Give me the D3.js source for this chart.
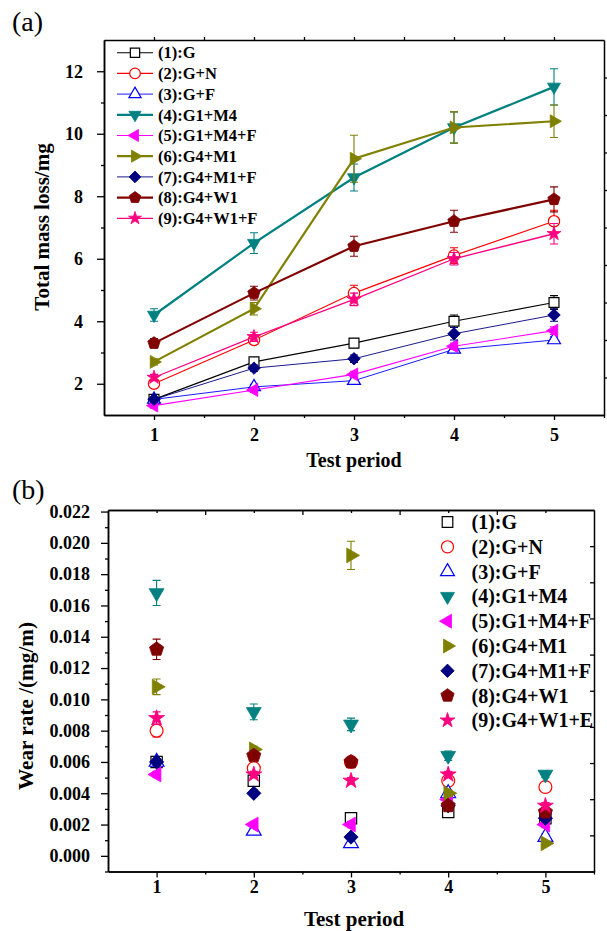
<!DOCTYPE html>
<html>
<head>
<meta charset="utf-8">
<script src="https://cdn.jsdelivr.net/npm/d3@7/dist/d3.min.js"></script>
<style>
  body { margin: 0; background: #fff; }
  text { font-family: "Liberation Serif", "Times New Roman", serif; }
</style>
</head>
<body>
<script>
// test periods and sample names
const periods = [1, 2, 3, 4, 5];
const seriesNames = ["(1):G", "(2):G+N", "(3):G+F", "(4):G1+M4", "(5):G1+M4+F",
  "(6):G4+M1", "(7):G4+M1+F", "(8):G4+W1", "(9):G4+W1+F"];
// panel (b) legend has a typo in the last entry, keep it as in the figure
const seriesNamesB = ["(1):G", "(2):G+N", "(3):G+F", "(4):G1+M4", "(5):G1+M4+F",
  "(6):G4+M1", "(7):G4+M1+F", "(8):G4+W1", "(9):G4+W1+E"];

// (a) total mass loss, mg
const massLoss = [
  [1.5, 2.7, 3.3, 4.0, 4.6],
  [2.0, 3.4, 4.9, 6.1, 7.2],
  [1.5, 1.9, 2.1, 3.1, 3.4],
  [4.2, 6.5, 8.6, 10.2, 11.5],
  [1.3, 1.8, 2.3, 3.2, 3.7],
  [2.7, 4.4, 9.2, 10.2, 10.4],
  [1.5, 2.5, 2.8, 3.6, 4.2],
  [3.3, 4.9, 6.4, 7.2, 7.9],
  [2.2, 3.5, 4.7, 6.0, 6.8]
];
const massLossErr = [
  [0.08, 0.1, 0.15, 0.2, 0.22],
  [0.1, 0.12, 0.25, 0.25, 0.35],
  [0.05, 0.08, 0.1, 0.1, 0.1],
  [0.2, 0.33, 0.43, 0.5, 0.58],
  [0.08, 0.08, 0.1, 0.1, 0.12],
  [0.1, 0.2, 0.75, 0.5, 0.52],
  [0.08, 0.1, 0.12, 0.2, 0.2],
  [0.15, 0.22, 0.32, 0.35, 0.4],
  [0.1, 0.15, 0.2, 0.2, 0.33]
];

// (b) wear rate, mg/m
const wearRate = [
  [0.0060, 0.0048, 0.0024, 0.0028, 0.0024],
  [0.0080, 0.0056, 0.0060, 0.0048, 0.0044],
  [0.0060, 0.0016, 0.0008, 0.0040, 0.0012],
  [0.0168, 0.0092, 0.0084, 0.0064, 0.0052],
  [0.0052, 0.0020, 0.0020, 0.0036, 0.0020],
  [0.0108, 0.0068, 0.0192, 0.0040, 0.0008],
  [0.0060, 0.0040, 0.0012, 0.0032, 0.0024],
  [0.0132, 0.0064, 0.0060, 0.0032, 0.0028],
  [0.0088, 0.0052, 0.0048, 0.0052, 0.0032]
];
const wearRateErr = [
  [0.0002, 0.0002, 0.0002, 0.0002, 0.0002],
  [0.0004, 0.0003, 0.0002, 0.0003, 0.0002],
  [0.0002, 0.0002, 0.0002, 0.0002, 0.0002],
  [0.0008, 0.0005, 0.0004, 0.0003, 0.0002],
  [0.0002, 0.0002, 0.0002, 0.0002, 0.0002],
  [0.0005, 0.0002, 0.0009, 0.0002, 0.0001],
  [0.0002, 0.0002, 0.0002, 0.0002, 0.0002],
  [0.00065, 0.0003, 0.0003, 0.0002, 0.0002],
  [0.0004, 0.0002, 0.0002, 0.0002, 0.0002]
];

const yTicksA = [2, 4, 6, 8, 10, 12];
const yTicksB = [0, 0.002, 0.004, 0.006, 0.008, 0.010, 0.012, 0.014, 0.016, 0.018, 0.020, 0.022];

// look of each series (Origin default-ish palette)
const colors = ["#000000", "#ff0000", "#0000ff", "#008080", "#ff00ff", "#808000", "#000080", "#800000", "#ff0080"];
const shapes = ["square", "circle", "triUp", "triDown", "triLeft", "triRight", "diamond", "pentagon", "star"];
const lineWidths = [1.1, 1.1, 0.9, 2.2, 1.1, 2.2, 0.9, 2.2, 1.3];

const symbolPentagon = {
  draw(ctx, size) {
    const r = Math.sqrt(size / 2.3776);
    for (let k = 0; k < 5; k++) {
      const a = -Math.PI / 2 + k * 2 * Math.PI / 5;
      if (k === 0) ctx.moveTo(r * Math.cos(a), r * Math.sin(a));
      else ctx.lineTo(r * Math.cos(a), r * Math.sin(a));
    }
    ctx.closePath();
  }
};

function marker(sel, i, x, y, k) {
  const kind = shapes[i];
  let type = d3.symbolSquare, size = 78, rot = 0;
  if (kind === "circle") { type = d3.symbolCircle; size = 80; }
  if (kind.startsWith("tri")) { type = d3.symbolTriangle; size = 58; }
  if (kind === "triDown") rot = 180;
  if (kind === "triLeft") rot = -90;
  if (kind === "triRight") rot = 90;
  if (kind === "diamond") { size = 62; rot = 45; }
  if (kind === "pentagon") { type = symbolPentagon; size = 80; }
  if (kind === "star") { type = d3.symbolStar; size = 48; }
  const open = i < 3;
  sel.append("path")
    .attr("d", d3.symbol(type, size * k * k)())
    .attr("transform", "translate(" + x + "," + y + ") rotate(" + rot + ")")
    .attr("fill", open ? "#fff" : colors[i])
    .attr("stroke", colors[i])
    .attr("stroke-width", open ? 1.2 : 0.8);
}

const svg = d3.select("body").append("svg")
  .attr("width", 607)
  .attr("height", 931);
svg.append("rect").attr("width", 607).attr("height", 931).attr("fill", "#fff");

function styleAxis(g, fontSize) {
  g.selectAll("path.domain").attr("stroke", "#000").attr("stroke-width", 1.5);
  g.selectAll(".tick line").attr("stroke", "#000").attr("stroke-width", 1.3);
  g.selectAll(".tick text")
    .attr("fill", "#000")
    .attr("font-size", fontSize + "px")
    .attr("font-weight", "bold")
    .attr("font-family", "'Liberation Serif', 'Times New Roman', serif");
}

// ================= panel (a) =================
const xA = d3.scaleLinear().domain([0.5, 5.5]).range([104, 604]);
const yA = d3.scaleLinear().domain([1, 13]).range([415, 40]);
const yRightA = d3.scaleLinear().domain([0, 10]).range([415, 40]);

svg.append("g").attr("transform", "translate(0,415)")
  .call(d3.axisBottom(xA).tickValues([1.5, 2.5, 3.5, 4.5, 5.5]).tickSize(3).tickSizeOuter(0).tickFormat(""))
  .call(g => styleAxis(g, 18));
svg.append("g").attr("transform", "translate(0,415)")
  .call(d3.axisBottom(xA).tickValues(periods).tickSize(5).tickPadding(8).tickSizeOuter(0).tickFormat(d3.format("d")))
  .call(g => styleAxis(g, 18));
svg.append("g").attr("transform", "translate(0,40)")
  .call(d3.axisTop(xA).tickValues([1, 1.5, 2, 2.5, 3, 3.5, 4, 4.5, 5]).tickSize(3).tickSizeOuter(0).tickFormat(""))
  .call(g => styleAxis(g, 18));
svg.append("g").attr("transform", "translate(104,0)")
  .call(d3.axisLeft(yA).tickValues([3, 5, 7, 9, 11]).tickSize(3).tickSizeOuter(0).tickFormat(""))
  .call(g => styleAxis(g, 18));
svg.append("g").attr("transform", "translate(104,0)")
  .call(d3.axisLeft(yA).tickValues(yTicksA).tickSize(7).tickPadding(14).tickSizeOuter(0).tickFormat(d3.format("d")))
  .call(g => styleAxis(g, 18));
svg.append("g").attr("transform", "translate(604,0)")
  .call(d3.axisRight(yRightA).tickValues(d3.range(1, 10)).tickSize(3).tickSizeOuter(0).tickFormat(""))
  .call(g => styleAxis(g, 18));

svg.append("text").attr("x", 12).attr("y", 31)
  .attr("font-size", "28px").text("(a)");
svg.append("text")
  .attr("transform", "translate(49,227) rotate(-90)")
  .attr("text-anchor", "middle")
  .attr("font-size", "21px").attr("font-weight", "bold")
  .text("Total mass loss/mg");
svg.append("text").attr("x", 354).attr("y", 467)
  .attr("text-anchor", "middle")
  .attr("font-size", "20px").attr("font-weight", "bold")
  .text("Test period");

const line = d3.line().x((d, j) => xA(periods[j])).y(d => yA(d));
massLoss.forEach((vals, i) => {
  const g = svg.append("g");
  g.append("path").attr("d", line(vals))
    .attr("fill", "none").attr("stroke", colors[i]).attr("stroke-width", lineWidths[i]);
  vals.forEach((v, j) => {
    const x = xA(periods[j]), e = massLossErr[i][j];
    const y0 = yA(v - e), y1 = yA(v + e);
    g.append("path")
      .attr("d", "M" + x + "," + y0 + "V" + y1 + "M" + (x - 4) + "," + y0 + "H" + (x + 4) + "M" + (x - 4) + "," + y1 + "H" + (x + 4))
      .attr("stroke", colors[i]).attr("stroke-width", 1.1).attr("fill", "none");
  });
  vals.forEach((v, j) => marker(g, i, xA(periods[j]), yA(v), 1.12));
});

// legend (a)
seriesNames.forEach((name, i) => {
  const y = 52.7 + i * 20.7;
  svg.append("line").attr("x1", 117).attr("x2", 153).attr("y1", y).attr("y2", y)
    .attr("stroke", colors[i]).attr("stroke-width", lineWidths[i]);
  marker(svg, i, 135, y, 1.05);
  svg.append("text").attr("x", 158).attr("y", y).attr("dy", "0.35em")
    .attr("font-size", "16.5px").attr("font-weight", "bold")
    .text(name);
});

// ================= panel (b) =================
const xB = d3.scaleLinear().domain([0.5, 5.5]).range([108, 594]);
const yB = d3.scaleLinear().domain([-0.001, 0.0221]).range([871.5, 510]);
const yRightB = d3.scaleLinear().domain([0, 10]).range([871.5, 510]);

svg.append("g").attr("transform", "translate(0,871.5)")
  .call(d3.axisBottom(xB).tickValues([1.5, 2.5, 3.5, 4.5, 5.5]).tickSize(3).tickSizeOuter(0).tickFormat(""))
  .call(g => styleAxis(g, 18));
svg.append("g").attr("transform", "translate(0,871.5)")
  .call(d3.axisBottom(xB).tickValues(periods).tickSize(6).tickPadding(3).tickSizeOuter(0).tickFormat(d3.format("d")))
  .call(g => styleAxis(g, 18));
svg.append("g").attr("transform", "translate(0,510)")
  .call(d3.axisBottom(xB).tickValues([1.5, 2.5, 3.5, 4.5]).tickSize(5).tickSizeOuter(0).tickFormat(""))
  .call(g => styleAxis(g, 18));
svg.append("g").attr("transform", "translate(0,510)")
  .call(d3.axisBottom(xB).tickValues(periods).tickSize(3).tickSizeOuter(0).tickFormat(""))
  .call(g => styleAxis(g, 18));
svg.append("g").attr("transform", "translate(108,0)")
  .call(d3.axisLeft(yB).tickValues(d3.range(-1, 22, 2).map(d => d / 1000)).tickSize(3).tickSizeOuter(0).tickFormat(""))
  .call(g => styleAxis(g, 18));
svg.append("g").attr("transform", "translate(108,0)")
  .call(d3.axisLeft(yB).tickValues(yTicksB).tickSize(7).tickPadding(11).tickSizeOuter(0).tickFormat(d3.format(".3f")))
  .call(g => styleAxis(g, 18));
svg.append("g").attr("transform", "translate(594,0)")
  .call(d3.axisLeft(yRightB).tickValues(d3.range(1, 10)).tickSize(4).tickSizeOuter(0).tickFormat(""))
  .call(g => styleAxis(g, 18));

svg.append("text").attr("x", 12).attr("y", 499)
  .attr("font-size", "28px").text("(b)");
svg.append("text")
  .attr("transform", "translate(33,706) rotate(-90)")
  .attr("text-anchor", "middle")
  .attr("font-size", "22px").attr("font-weight", "bold")
  .attr("textLength", 168).attr("lengthAdjust", "spacingAndGlyphs")
  .text("Wear rate /(mg/m)");
svg.append("text").attr("x", 354).attr("y", 926)
  .attr("text-anchor", "middle")
  .attr("font-size", "21px").attr("font-weight", "bold")
  .text("Test period");

wearRate.forEach((vals, i) => {
  const g = svg.append("g");
  vals.forEach((v, j) => {
    const x = xB(periods[j]), e = wearRateErr[i][j];
    const y0 = yB(v - e), y1 = yB(v + e);
    g.append("path")
      .attr("d", "M" + x + "," + y0 + "V" + y1 + "M" + (x - 4) + "," + y0 + "H" + (x + 4) + "M" + (x - 4) + "," + y1 + "H" + (x + 4))
      .attr("stroke", colors[i]).attr("stroke-width", 1.1).attr("fill", "none");
  });
  vals.forEach((v, j) => marker(g, i, xB(periods[j]), yB(v), 1.28));
});

// legend (b)
seriesNamesB.forEach((name, i) => {
  const y = 522 + i * 24.8;
  marker(svg, i, 447.5, y, 1.2);
  svg.append("text").attr("x", 471.5).attr("y", y).attr("dy", "0.35em")
    .attr("font-size", "20px").attr("font-weight", "bold")
    .text(name);
});
</script>
</body>
</html>
